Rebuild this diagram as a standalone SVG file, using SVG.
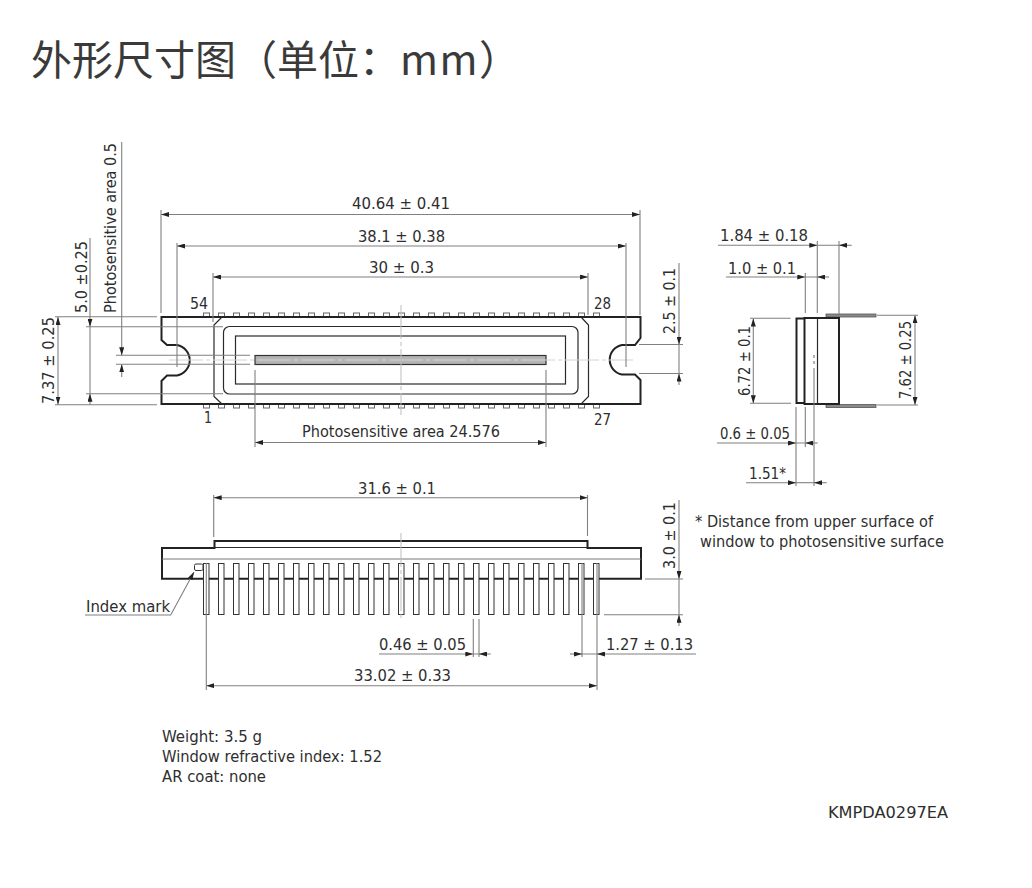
<svg xmlns="http://www.w3.org/2000/svg" xmlns:xlink="http://www.w3.org/1999/xlink" width="1032" height="888" viewBox="0 0 1032 888">
<style>
text{font-family:"DejaVu Sans","Noto Sans",sans-serif;font-size:16px;fill:#2e2e2e;font-stretch:condensed}
.title{font-family:"Noto Sans CJK SC","Noto Sans",sans-serif;font-size:41px;font-weight:400;fill:#3a3a3a;font-stretch:normal}
.d{fill:none;stroke:#808080;stroke-width:1.1}
.a{marker-end:url(#ar)}
.b{marker-start:url(#ar);marker-end:url(#ar)}
.o{fill:none;stroke:#222;stroke-width:2}
.t{fill:none;stroke:#2a2a2a;stroke-width:1.2}
.c{fill:none;stroke:#bdbdbd;stroke-width:1;stroke-dasharray:34 3 4 3}
.p{fill:#fff;stroke:#666;stroke-width:1}
.l{fill:#fff;stroke:#333;stroke-width:1}
</style>
<defs>
<marker id="ar" viewBox="0 0 8 5" refX="8" refY="2.5" markerWidth="8" markerHeight="5" markerUnits="userSpaceOnUse" orient="auto-start-reverse"><path d="M0 0L8 2.5L0 5z" fill="#222"/></marker>
<rect id="sp" width="6" height="3.5" class="p"/>
<g id="srow"><use xlink:href="#sp" x="203.5"/><use xlink:href="#sp" x="218.5"/><use xlink:href="#sp" x="233.5"/><use xlink:href="#sp" x="248.5"/><use xlink:href="#sp" x="263.5"/><use xlink:href="#sp" x="278.5"/><use xlink:href="#sp" x="293.5"/><use xlink:href="#sp" x="308.5"/><use xlink:href="#sp" x="323.5"/><use xlink:href="#sp" x="338.5"/><use xlink:href="#sp" x="353.5"/><use xlink:href="#sp" x="368.5"/><use xlink:href="#sp" x="383.5"/><use xlink:href="#sp" x="398.5"/><use xlink:href="#sp" x="413.5"/><use xlink:href="#sp" x="428.5"/><use xlink:href="#sp" x="443.5"/><use xlink:href="#sp" x="458.5"/><use xlink:href="#sp" x="473.5"/><use xlink:href="#sp" x="488.5"/><use xlink:href="#sp" x="503.5"/><use xlink:href="#sp" x="518.5"/><use xlink:href="#sp" x="533.5"/><use xlink:href="#sp" x="548.5"/><use xlink:href="#sp" x="563.5"/><use xlink:href="#sp" x="578.5"/><use xlink:href="#sp" x="593.5"/></g>
<rect id="lp" y="563.5" width="5.5" height="51" class="l"/>
</defs>
<rect width="1032" height="888" fill="#fff"/>
<text class="title" x="31" y="75">外形尺寸图（单位：<tspan letter-spacing="1.5">mm</tspan>）</text>

<g id="top-view">
<use xlink:href="#srow" y="313"/>
<use xlink:href="#srow" y="404.5"/>
<path class="o" style="fill:#fff" d="M161.5 317H640.5V338L635 345H622A15 15 0 0 0 622 374.5H635L640.5 380V404H161.5V381L167 375.5H177A15.5 15.5 0 0 0 177 345H167L161.5 340Z"/>
<path class="t" d="M222 317L214 325V396.5L222 404M581 317L588.5 325V396.5L581 404"/>
<rect class="t" x="223.5" y="326.5" width="354.5" height="67.5" rx="6"/>
<rect class="t" x="235.5" y="336" width="330" height="48"/>
<rect x="255" y="355.5" width="291" height="9" fill="#b4b4b4" stroke="#333" stroke-width="1.2"/>
<path d="M169 360H633" fill="none" stroke="#d4d4d4" stroke-dasharray="34 3 4 3"/>
<path class="c" d="M401 305V415"/>
</g>

<g id="side-view">
<rect x="826" y="314" width="50" height="3" fill="#8a8a8a" stroke="#555" stroke-width=".8"/>
<rect x="826" y="404.5" width="50" height="3" fill="#8a8a8a" stroke="#555" stroke-width=".8"/>
<rect class="o" x="796.5" y="318.5" width="9" height="84.5"/>
<rect class="o" x="804.5" y="318" width="34.5" height="86" style="fill:#fff"/>
<path class="t" d="M817.5 318V404"/>
<path d="M814 355V358M814 361V364" stroke="#666" fill="none"/>
</g>

<g id="bottom-view">
<path class="o" d="M214.5 541H587.5V548H641V578.7H162V548H214.5Z"/>
<path class="t" d="M214 547.5H588"/>
<path d="M162 559H641" stroke="#777" fill="none"/>
<rect x="194.5" y="564" width="8.5" height="6.5" rx="1.5" class="l"/>
<use xlink:href="#lp" x="203.5"/><use xlink:href="#lp" x="218.5"/><use xlink:href="#lp" x="233.5"/><use xlink:href="#lp" x="248.5"/><use xlink:href="#lp" x="263.5"/><use xlink:href="#lp" x="278.5"/><use xlink:href="#lp" x="293.5"/><use xlink:href="#lp" x="308.5"/><use xlink:href="#lp" x="323.5"/><use xlink:href="#lp" x="338.5"/><use xlink:href="#lp" x="353.5"/><use xlink:href="#lp" x="368.5"/><use xlink:href="#lp" x="383.5"/><use xlink:href="#lp" x="398.5"/><use xlink:href="#lp" x="413.5"/><use xlink:href="#lp" x="428.5"/><use xlink:href="#lp" x="443.5"/><use xlink:href="#lp" x="458.5"/><use xlink:href="#lp" x="473.5"/><use xlink:href="#lp" x="488.5"/><use xlink:href="#lp" x="503.5"/><use xlink:href="#lp" x="518.5"/><use xlink:href="#lp" x="533.5"/><use xlink:href="#lp" x="548.5"/><use xlink:href="#lp" x="563.5"/><use xlink:href="#lp" x="578.5"/><use xlink:href="#lp" x="593.5"/>
<path class="c" d="M401 533V618"/>
</g>

<g id="connectors">
<path class="d b" d="M161 214.5H640"/>
<path class="d" d="M161 210V313M640 210V315"/>
<path class="d b" d="M177 246H626"/>
<path class="d" d="M177 243V367M626 243V367"/>
<path class="d b" d="M213 277H588"/>
<path class="d" d="M213 273V322M588 273V315"/>
<path class="d b" d="M255 442.5H546"/>
<path class="d" d="M255 370V447M546 370V447"/>
<path class="d a" d="M90 238V326.7"/><path class="d a" d="M90 405V393.7"/><path class="d" d="M90 326.7V393.7"/>
<path class="d" d="M86 326.7H223M86 393.7H223"/>
<path class="d a" d="M121.7 142V355.3"/><path class="d a" d="M121.7 377V364.3"/>
<path class="d" d="M116 355.3H250M116 364.3H250"/>
<path class="d b" d="M58 317V404.5"/>
<path class="d" d="M55 316.7H157M55 404.7H157"/>
<path class="d a" d="M679 263V344.5"/><path class="d a" d="M679 385V373.5"/><path class="d" d="M679 344.5V373.5"/>
<path class="d" d="M639 344.5H683M639 373.5H683"/>
<path class="d a" d="M679 500V579"/><path class="d a" d="M679 626V614.7"/><path class="d" d="M679 579V614.7"/>
<path class="d" d="M645 579H683M604 614.7H683"/>
<path class="d b" d="M213.7 497.7H587.5"/>
<path class="d" d="M213.7 495V537M587.5 495V536"/>
<path class="d b" d="M206.3 685.7H597"/>
<path class="d" d="M206.3 563V690M597 563V690"/>
<path class="d a" d="M379 654H473.3"/><path class="d a" d="M490.7 654H479"/>
<path class="d" d="M473.3 619V657M479 619V657M582 563V657M473.3 654H479M582 654H597"/>
<path class="d a" d="M570 654H582"/><path class="d a" d="M696 654H597"/>
<path class="d a" d="M718 245.3H817.3"/><path class="d a" d="M851.7 245.3H839"/>
<path class="d" d="M817.3 241V313M839 241V314M817.3 245.3H839"/>
<path class="d a" d="M726 277H805.3"/><path class="d a" d="M829 277H817.3"/>
<path class="d" d="M805.3 273V313M805.3 277H817.3"/>
<path class="d b" d="M753.3 318.5V403.3"/>
<path class="d" d="M750 318.3H790.7M750 403.3H791"/>
<path class="d b" d="M915 315.3V405"/>
<path class="d" d="M877 315.3H918M877 405H918"/>
<path class="d a" d="M717 443H796"/><path class="d a" d="M817.7 443H805.3"/>
<path class="d" d="M796 407V486M805.3 407V447M814 368V486M796 443H805.3"/>
<path class="d a" d="M746 482.7H796"/><path class="d a" d="M826.7 482.7H814"/>
<path class="d" d="M796 482.7H814"/>
<path class="d a" d="M85 615H170.7L194 572"/>
</g>

<g id="labels">
<text x="352" y="209" textLength="98" lengthAdjust="spacingAndGlyphs">40.64 ± 0.41</text>
<text x="358" y="242" textLength="87" lengthAdjust="spacingAndGlyphs">38.1 ± 0.38</text>
<text x="369" y="273" textLength="65" lengthAdjust="spacingAndGlyphs">30 ± 0.3</text>
<text x="190" y="309" textLength="18" lengthAdjust="spacingAndGlyphs">54</text>
<text x="594" y="309" textLength="17" lengthAdjust="spacingAndGlyphs">28</text>
<text x="204" y="423" textLength="8" lengthAdjust="spacingAndGlyphs">1</text>
<text x="594" y="425" textLength="17" lengthAdjust="spacingAndGlyphs">27</text>
<text x="302" y="437" textLength="198" lengthAdjust="spacingAndGlyphs">Photosensitive area 24.576</text>
<text transform="translate(116 313) rotate(-90)" textLength="170" lengthAdjust="spacingAndGlyphs">Photosensitive area 0.5</text>
<text transform="translate(87 313) rotate(-90)" textLength="72" lengthAdjust="spacingAndGlyphs">5.0 ±0.25</text>
<text transform="translate(54 404) rotate(-90)" textLength="87" lengthAdjust="spacingAndGlyphs">7.37 ± 0.25</text>
<text transform="translate(675 334) rotate(-90)" textLength="66" lengthAdjust="spacingAndGlyphs">2.5 ± 0.1</text>
<text transform="translate(675 569) rotate(-90)" textLength="67" lengthAdjust="spacingAndGlyphs">3.0 ± 0.1</text>
<text transform="translate(750 396) rotate(-90)" textLength="70" lengthAdjust="spacingAndGlyphs">6.72 ± 0.1</text>
<text transform="translate(911 399) rotate(-90)" textLength="78" lengthAdjust="spacingAndGlyphs">7.62 ± 0.25</text>
<text x="720" y="241" textLength="88" lengthAdjust="spacingAndGlyphs">1.84 ± 0.18</text>
<text x="728" y="274" textLength="68" lengthAdjust="spacingAndGlyphs">1.0 ± 0.1</text>
<text x="720" y="439" textLength="70" lengthAdjust="spacingAndGlyphs">0.6 ± 0.05</text>
<text x="749" y="479" textLength="37" lengthAdjust="spacingAndGlyphs">1.51*</text>
<text x="358" y="494" textLength="78" lengthAdjust="spacingAndGlyphs">31.6 ± 0.1</text>
<text x="695" y="527" textLength="238" lengthAdjust="spacingAndGlyphs">* Distance from upper surface of</text>
<text x="700" y="547" textLength="244" lengthAdjust="spacingAndGlyphs">window to photosensitive surface</text>
<text x="86" y="612" textLength="84" lengthAdjust="spacingAndGlyphs">Index mark</text>
<text x="379" y="650" textLength="87" lengthAdjust="spacingAndGlyphs">0.46 ± 0.05</text>
<text x="606" y="650" textLength="87" lengthAdjust="spacingAndGlyphs">1.27 ± 0.13</text>
<text x="354" y="681" textLength="97" lengthAdjust="spacingAndGlyphs">33.02 ± 0.33</text>
<text x="162" y="742" textLength="100" lengthAdjust="spacingAndGlyphs">Weight: 3.5 g</text>
<text x="162" y="762" textLength="220" lengthAdjust="spacingAndGlyphs">Window refractive index: 1.52</text>
<text x="162" y="782" textLength="104" lengthAdjust="spacingAndGlyphs">AR coat: none</text>
<text x="828" y="818" textLength="120" lengthAdjust="spacingAndGlyphs">KMPDA0297EA</text>
</g>
</svg>
